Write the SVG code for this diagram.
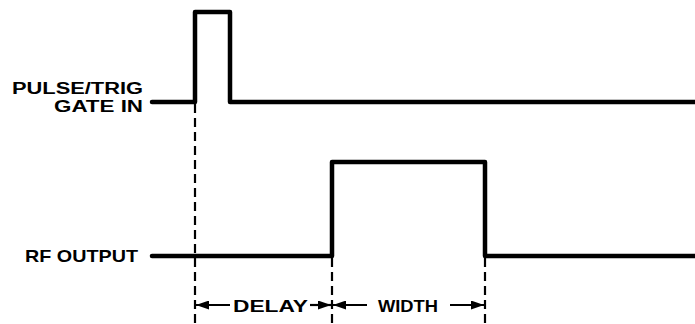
<svg xmlns="http://www.w3.org/2000/svg" width="695" height="324" viewBox="0 0 695 324">
<style>
  .sig { fill: none; stroke: #000; stroke-width: 4.5; stroke-linejoin: round; stroke-linecap: round; }
  .dash { fill: none; stroke: #000; stroke-width: 2.2; stroke-dasharray: 9 5; }
  .dim { fill: none; stroke: #000; stroke-width: 2.2; }
  .lbl { font-family: "Liberation Sans", Arial, sans-serif; font-weight: bold; font-size: 17px; fill: #000; }
  .sm { font-size: 16px; }
</style>
<defs>
  <marker id="ah" viewBox="0 0 13 9" refX="13" refY="4.5" markerWidth="13" markerHeight="9" markerUnits="userSpaceOnUse" orient="auto">
    <path d="M0,0 L13,4.5 L0,9 Z" fill="#000"/>
  </marker>
</defs>
<g id="pulse-trig">
  <path class="sig" d="M152,102 H195 V12 H230 V102 H695"/>
  <text class="lbl sm" x="12" y="94" textLength="131" lengthAdjust="spacingAndGlyphs">PULSE/TRIG</text>
  <text class="lbl sm" x="54" y="112" textLength="89" lengthAdjust="spacingAndGlyphs">GATE  IN</text>
</g>
<g id="rf-output">
  <path class="sig" d="M152,256 H332 V162 H485 V256 H695"/>
  <text class="lbl" x="25" y="262" textLength="113" lengthAdjust="spacingAndGlyphs">RF  OUTPUT</text>
</g>
<g id="connectors">
  <line class="dash" x1="195" y1="104" x2="195" y2="324"/>
  <line class="dash" x1="332" y1="258" x2="332" y2="324"/>
  <line class="dash" x1="485" y1="258" x2="485" y2="324"/>
  <line class="dim" x1="230" y1="305" x2="196" y2="305" marker-end="url(#ah)"/>
  <line class="dim" x1="310" y1="305" x2="331" y2="305" marker-end="url(#ah)"/>
  <line class="dim" x1="367" y1="305" x2="333" y2="305" marker-end="url(#ah)"/>
  <line class="dim" x1="450" y1="305" x2="484" y2="305" marker-end="url(#ah)"/>
</g>
<g id="delay-label">
  <text class="lbl" x="233" y="312" textLength="75" lengthAdjust="spacingAndGlyphs">DELAY</text>
</g>
<g id="width-label">
  <text class="lbl" x="378" y="312" textLength="60" lengthAdjust="spacingAndGlyphs">WIDTH</text>
</g>
</svg>
